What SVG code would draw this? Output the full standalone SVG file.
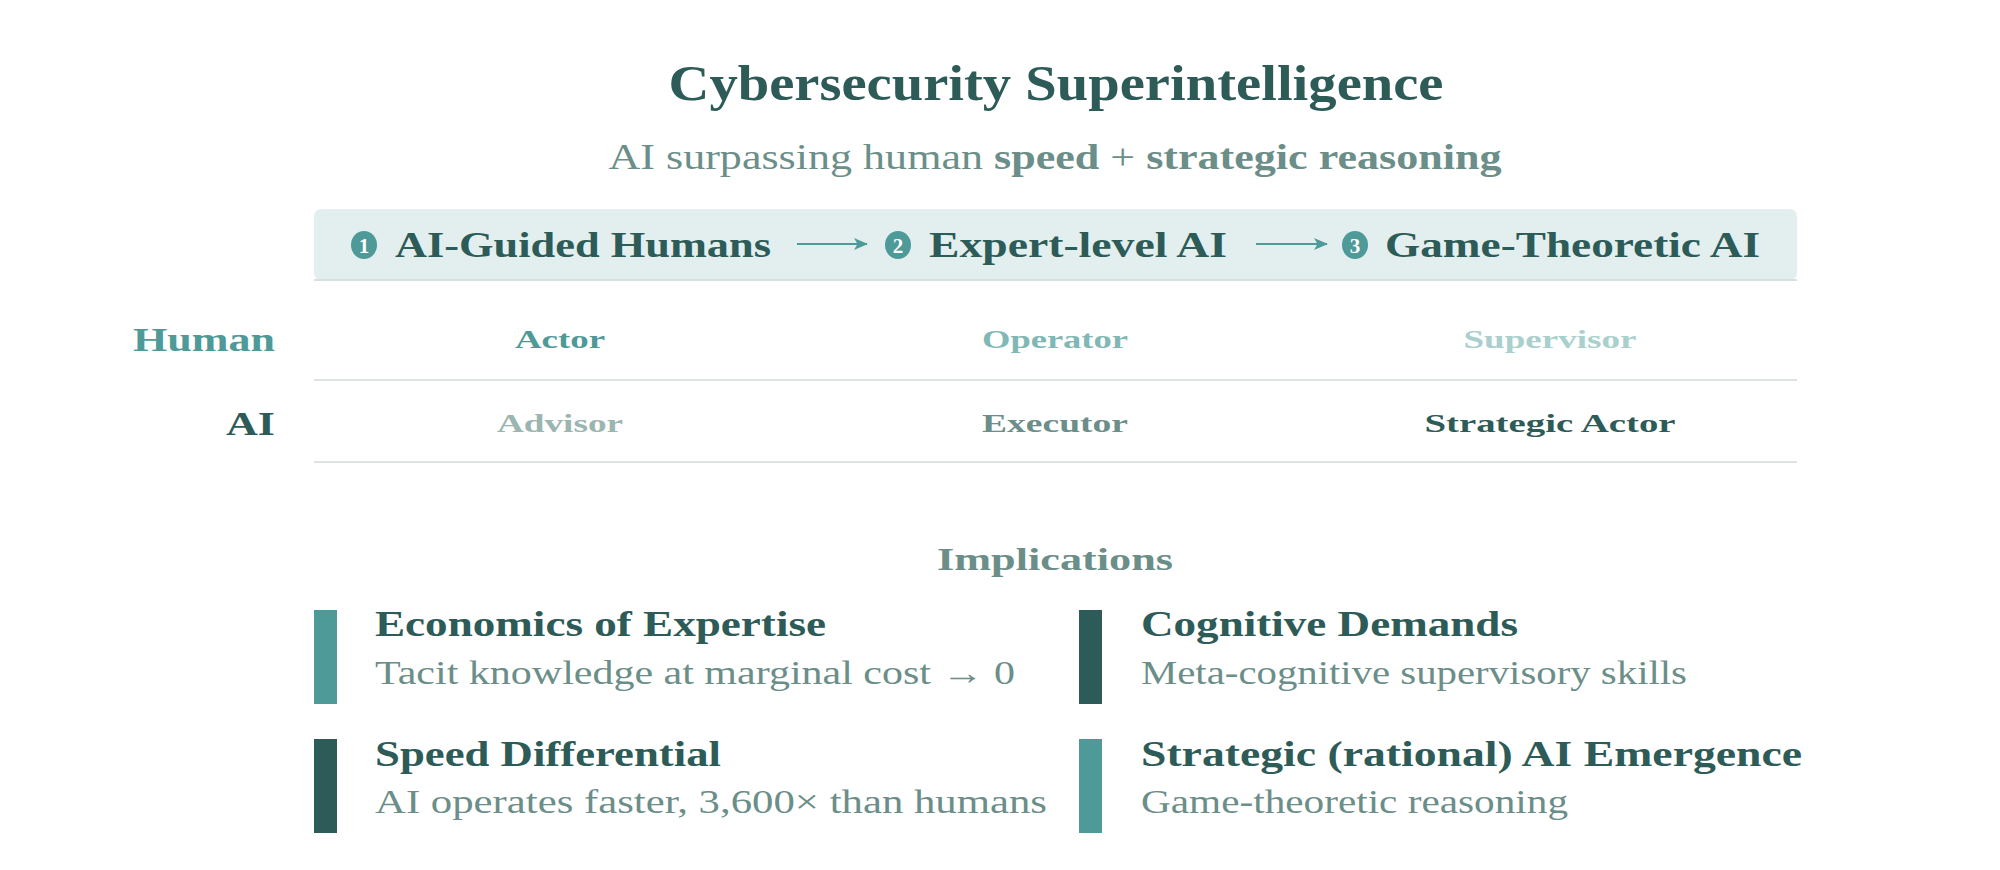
<svg xmlns="http://www.w3.org/2000/svg" width="2000" height="870" viewBox="0 0 2000 870">
<style>
text{font-family:"Liberation Serif","DejaVu Serif",serif;}
.b{font-weight:bold;}
.dark{fill:#2d5b57;}
.teal{fill:#4e9a98;}
.mid{fill:#6b8e89;}
.stage{font-size:36px;font-weight:bold;fill:#2d5b57;}
.num{font-size:21px;font-weight:bold;fill:#ffffff;text-anchor:middle;}
.cell{font-size:26px;font-weight:bold;text-anchor:middle;}
.head{font-size:35px;font-weight:bold;fill:#2d5b57;}
.sub{font-size:33px;fill:#6b8e89;}
.rule{stroke:#dde3e3;stroke-width:2;}
.conn{stroke:#4e9a98;stroke-width:2;fill:none;}
</style>
<defs>
<marker id="ah" viewBox="0 0 14 12" refX="13" refY="6" markerWidth="14" markerHeight="12" markerUnits="userSpaceOnUse" orient="auto">
<path d="M0,0 L14,6 L0,12 L3.5,6 Z" fill="#4e9a98"/>
</marker>
</defs>
<rect width="2000" height="870" fill="#ffffff"/>
<g id="title">
<text x="1056" y="100" text-anchor="middle" class="b dark" font-size="50" textLength="775" lengthAdjust="spacingAndGlyphs">Cybersecurity Superintelligence</text>
<text x="1055" y="169" text-anchor="middle" class="mid" font-size="36" textLength="893" lengthAdjust="spacingAndGlyphs">AI surpassing human <tspan font-weight="bold">speed</tspan> + <tspan font-weight="bold">strategic reasoning</tspan></text>
</g>
<g id="band">
<rect x="314" y="209" width="1483" height="71" rx="7" fill="#e3efef"/>
<line x1="314" y1="280" x2="1797" y2="280" stroke="#d5e0df" stroke-width="2"/>
</g>
<g id="stage1">
<ellipse cx="364" cy="245" rx="13" ry="14" fill="#4e9a98"/>
<text x="364" y="252.5" class="num">1</text>
<text x="395" y="257" class="stage" textLength="376" lengthAdjust="spacingAndGlyphs">AI-Guided Humans</text>
</g>
<g id="stage2">
<ellipse cx="898" cy="245" rx="13" ry="14" fill="#4e9a98"/>
<text x="898" y="252.5" class="num">2</text>
<text x="929" y="257" class="stage" textLength="298" lengthAdjust="spacingAndGlyphs">Expert-level AI</text>
</g>
<g id="stage3">
<ellipse cx="1355" cy="245" rx="13" ry="14" fill="#4e9a98"/>
<text x="1355" y="252.5" class="num">3</text>
<text x="1385" y="257" class="stage" textLength="375" lengthAdjust="spacingAndGlyphs">Game-Theoretic AI</text>
</g>
<g id="connectors">
<line x1="797" y1="244" x2="867" y2="244" class="conn" marker-end="url(#ah)"/>
<line x1="1256" y1="244" x2="1327" y2="244" class="conn" marker-end="url(#ah)"/>
</g>
<g id="row-human">
<text x="275" y="351" text-anchor="end" class="b teal" font-size="34" textLength="142" lengthAdjust="spacingAndGlyphs">Human</text>
<text x="560" y="348" class="cell" fill="#4e9a98" textLength="90" lengthAdjust="spacingAndGlyphs">Actor</text>
<text x="1055" y="348" class="cell" fill="#7fb8b5" textLength="146" lengthAdjust="spacingAndGlyphs">Operator</text>
<text x="1550" y="348" class="cell" fill="#a9d0cd" textLength="173" lengthAdjust="spacingAndGlyphs">Supervisor</text>
<line x1="314" y1="380" x2="1797" y2="380" class="rule"/>
</g>
<g id="row-ai">
<text x="275" y="435" text-anchor="end" class="b dark" font-size="34" textLength="49" lengthAdjust="spacingAndGlyphs">AI</text>
<text x="560" y="432" class="cell" fill="#9bb5b0" textLength="126" lengthAdjust="spacingAndGlyphs">Advisor</text>
<text x="1055" y="432" class="cell" fill="#6b8e89" textLength="146" lengthAdjust="spacingAndGlyphs">Executor</text>
<text x="1550" y="432" class="cell" fill="#2d5b57" textLength="251" lengthAdjust="spacingAndGlyphs">Strategic Actor</text>
<line x1="314" y1="462" x2="1797" y2="462" class="rule"/>
</g>
<g id="implications-title">
<text x="1055" y="570" text-anchor="middle" class="b mid" font-size="32" textLength="236" lengthAdjust="spacingAndGlyphs">Implications</text>
</g>
<g id="imp-economics">
<rect x="314" y="610" width="23" height="94" fill="#4e9a98"/>
<text x="375" y="636" class="head" textLength="451" lengthAdjust="spacingAndGlyphs">Economics of Expertise</text>
<text x="375" y="684" class="sub" textLength="640" lengthAdjust="spacingAndGlyphs">Tacit knowledge at marginal cost → 0</text>
</g>
<g id="imp-cognitive">
<rect x="1079" y="610" width="23" height="94" fill="#2d5b57"/>
<text x="1141" y="636" class="head" textLength="377" lengthAdjust="spacingAndGlyphs">Cognitive Demands</text>
<text x="1141" y="684" class="sub" textLength="546" lengthAdjust="spacingAndGlyphs">Meta-cognitive supervisory skills</text>
</g>
<g id="imp-speed">
<rect x="314" y="739" width="23" height="94" fill="#2d5b57"/>
<text x="375" y="766" class="head" textLength="346" lengthAdjust="spacingAndGlyphs">Speed Differential</text>
<text x="375" y="813" class="sub" textLength="672" lengthAdjust="spacingAndGlyphs">AI operates faster, 3,600× than humans</text>
</g>
<g id="imp-strategic">
<rect x="1079" y="739" width="23" height="94" fill="#4e9a98"/>
<text x="1141" y="766" class="head" textLength="661" lengthAdjust="spacingAndGlyphs">Strategic (rational) AI Emergence</text>
<text x="1141" y="813" class="sub" textLength="427" lengthAdjust="spacingAndGlyphs">Game-theoretic reasoning</text>
</g>
</svg>
